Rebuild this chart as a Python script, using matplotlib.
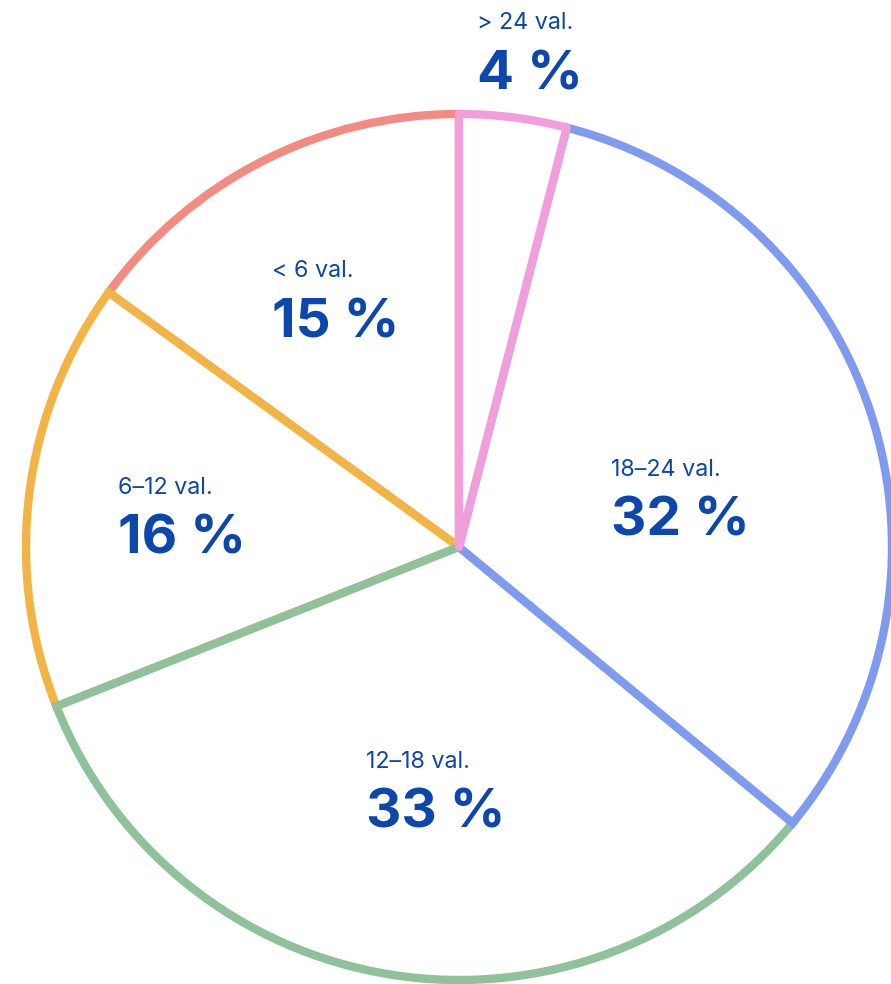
import matplotlib
matplotlib.use("Agg")
import matplotlib.pyplot as plt

# Share of each group, clockwise from 12 o'clock
groups = ["> 24 val.", "18–24 val.", "12–18 val.", "6–12 val.", "< 6 val."]
shares = [4, 32, 33, 16, 15]
edge_colors = ["#f09fdc", "#7f9bf0", "#8fc29a", "#f2b444", "#f28b82"]

# Label anchor (left, baseline) in pixels from the top-left corner
label_pos = [(477, 29), (611, 476), (366, 768), (118, 494), (272, 277)]

W, H = 891, 984
text_color = "#0b47ad"

fig = plt.figure(figsize=(W / 100, H / 100), dpi=100)
ax = fig.add_axes([0, 0, 1, 1])

wedges, _ = ax.pie(shares, center=(459, H - 547), radius=433,
                   startangle=90, counterclock=False, frame=True,
                   wedgeprops=dict(facecolor="white", linewidth=6.0,
                                   joinstyle="miter"))

# Earlier wedges sit on top of later ones at shared edges
for i, w in enumerate(wedges):
    w.set_edgecolor(edge_colors[i])
    w.set_zorder(10 - i)
# the thin slice would get a long miter spike at the centre
wedges[0].set_joinstyle("round")

for i, name in enumerate(groups):
    x, y = label_pos[i]
    ax.text(x, H - y, name, ha="left", va="baseline", fontsize=16.8,
            family="Inter", color=text_color, zorder=20)
    ax.text(x, H - y - 60, f"{shares[i]} %", ha="left", va="baseline",
            fontsize=39.5, fontweight="bold", family="Inter",
            color=text_color, zorder=20)

ax.set_xlim(0, W)
ax.set_ylim(0, H)
ax.set_aspect("equal")
ax.axis("off")

fig.savefig("out.png", dpi=100)
